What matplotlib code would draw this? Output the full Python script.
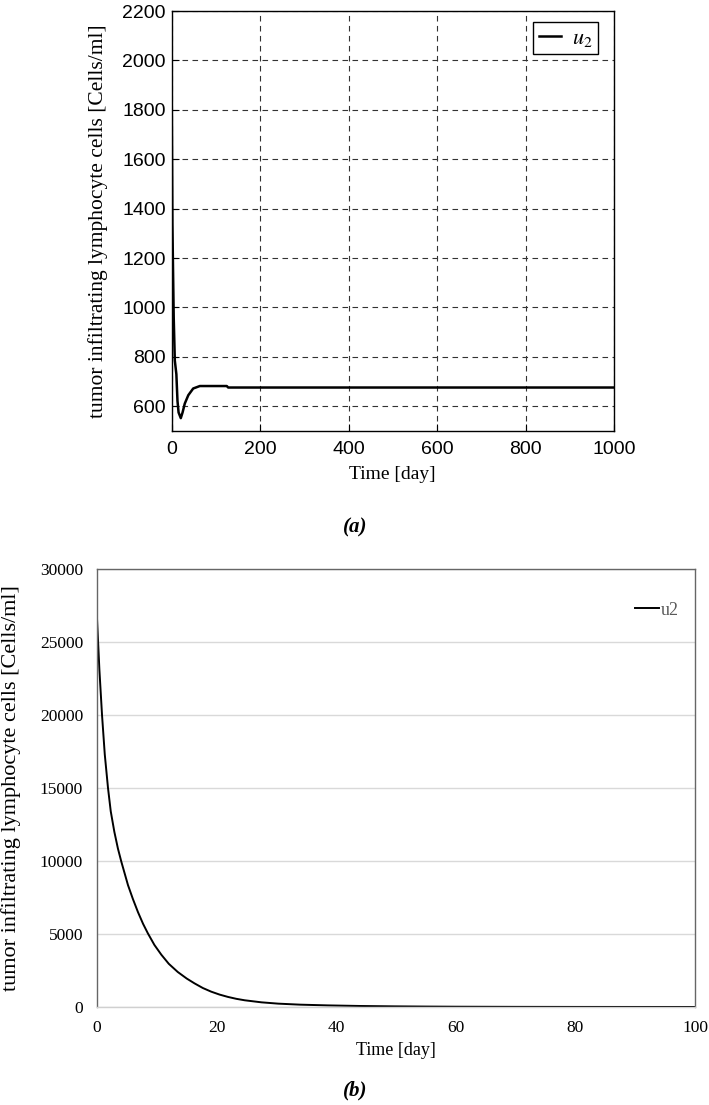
import numpy as np
import matplotlib
matplotlib.use("Agg")
import matplotlib.pyplot as plt

plt.rcParams["mathtext.fontset"] = "stix"

# (a) u2 over 1000 days
t_a = [0, 2, 5, 7.5, 11, 13.5, 16, 21, 25, 30, 38, 49, 64, 125, 128, 1000]
u2_a = [2000, 1338, 960, 785, 730, 622, 575, 552, 575, 611, 645, 672, 682, 682, 676, 676]

# (b) u2 over 100 days
t_b = [0, 0.4, 0.84, 1.3, 1.84, 2.3, 2.9, 3.5, 4.07, 5.18, 6.0, 6.85, 7.7, 8.5,
       9.6, 10.76, 12, 13.5, 15, 16.3, 17.7, 19.1, 20.5, 21.9, 23.3, 24.7, 27.5,
       30.3, 34, 38.6, 44, 49.7, 55, 60, 70, 80, 90, 100]
u2_b = [26600, 23100, 20000, 17300, 15000, 13400, 12000, 10850, 9950, 8350,
        7400, 6500, 5700, 5050, 4250, 3580, 2960, 2400, 1950, 1620, 1300, 1050,
        850, 690, 560, 460, 320, 230, 160, 110, 70, 45, 30, 20, 10, 5, 3, 2]

xticks_a = [0, 200, 400, 600, 800, 1000]
yticks_a = [600, 800, 1000, 1200, 1400, 1600, 1800, 2000, 2200]
xticks_b = [0, 20, 40, 60, 80, 100]
yticks_b = [0, 5000, 10000, 15000, 20000, 25000, 30000]

ylab = "tumor infiltrating lymphocyte cells [Cells/ml]"
serif = "Liberation Serif"
sans = "Liberation Sans"

W, H = 709, 1105
fig = plt.figure(figsize=(W / 100, H / 100), dpi=100)

# ---- top panel (MATLAB style) ----
ax1 = fig.add_axes([171.5 / W, 1 - 431 / H, 442.5 / W, 420 / H])
ax1.plot(t_a, u2_a, color="black", lw=1.8, label="$u_2$")
ax1.set_xlim(0, 1000)
ax1.set_ylim(500, 2200)
ax1.set_xticks(xticks_a)
ax1.set_yticks(yticks_a)
ax1.tick_params(direction="in", length=5, width=0.8, labelsize=14)
ax1.tick_params(axis="x", pad=7.5)
ax1.tick_params(axis="y", pad=4)
for lbl in ax1.get_xticklabels() + ax1.get_yticklabels():
    lbl.set_fontfamily(sans)
ax1.grid(True, color="#333333", lw=0.8, linestyle=(0, (5, 4)))
for s in ax1.spines.values():
    s.set_linewidth(1.0)
ax1.set_xlabel("Time [day]", fontsize=14, fontfamily=serif)
ax1.set_ylabel(ylab, fontsize=15.5, fontfamily=serif)
ax1.xaxis.set_label_coords(0.5, -0.083)
ax1.yaxis.set_label_coords(-0.1435, 0.5)
leg = ax1.legend(loc="upper right", bbox_to_anchor=(0.9638, 0.9738), fontsize=16,
                 fancybox=False, edgecolor="black", framealpha=1, handlelength=1.0,
                 handletextpad=0.5, borderpad=0.25, borderaxespad=0)
leg.get_frame().set_linewidth(1.0)

fig.text(355 / W, 1 - 527 / H, "(a)", fontsize=15, fontfamily=serif,
         fontweight="bold", fontstyle="italic", ha="center", va="center")

# ---- bottom panel (Excel style) ----
ax2 = fig.add_axes([97 / W, 1 - 1007 / H, 598 / W, 438 / H])
ax2.plot(t_b, u2_b, color="black", lw=1.4, label="u2")
ax2.set_xlim(0, 100)
ax2.set_ylim(0, 30000)
ax2.set_xticks(xticks_b)
ax2.set_yticks(yticks_b)
ax2.tick_params(length=0, labelsize=12.5)
ax2.tick_params(axis="x", pad=9)
ax2.tick_params(axis="y", pad=10)
for lbl in ax2.get_xticklabels() + ax2.get_yticklabels():
    lbl.set_fontfamily(serif)
ax2.grid(True, axis="y", color="#d9d9d9", lw=1.0)
ax2.set_axisbelow(True)
for name, s in ax2.spines.items():
    s.set_color("#666666")
    s.set_linewidth(1.0)
ax2.spines["bottom"].set_color("#d0d0d0")
ax2.set_xlabel("Time [day]", fontsize=13, fontfamily=serif)
ax2.set_ylabel(ylab, fontsize=16, fontfamily=serif)
ax2.xaxis.set_label_coords(0.5, -0.08)
ax2.yaxis.set_label_coords(-0.127, 0.5)
leg2 = ax2.legend(loc="center left", bbox_to_anchor=(0.9, 0.906), frameon=False,
                  handlelength=1.3, handletextpad=0.1, borderpad=0, borderaxespad=0,
                  prop={"family": serif, "size": 13})
for txt in leg2.get_texts():
    txt.set_color("#595959")

fig.text(355 / W, 1 - 1090 / H, "(b)", fontsize=15, fontfamily=serif,
         fontweight="bold", fontstyle="italic", ha="center", va="center")

fig.savefig("out.png", dpi=100)
